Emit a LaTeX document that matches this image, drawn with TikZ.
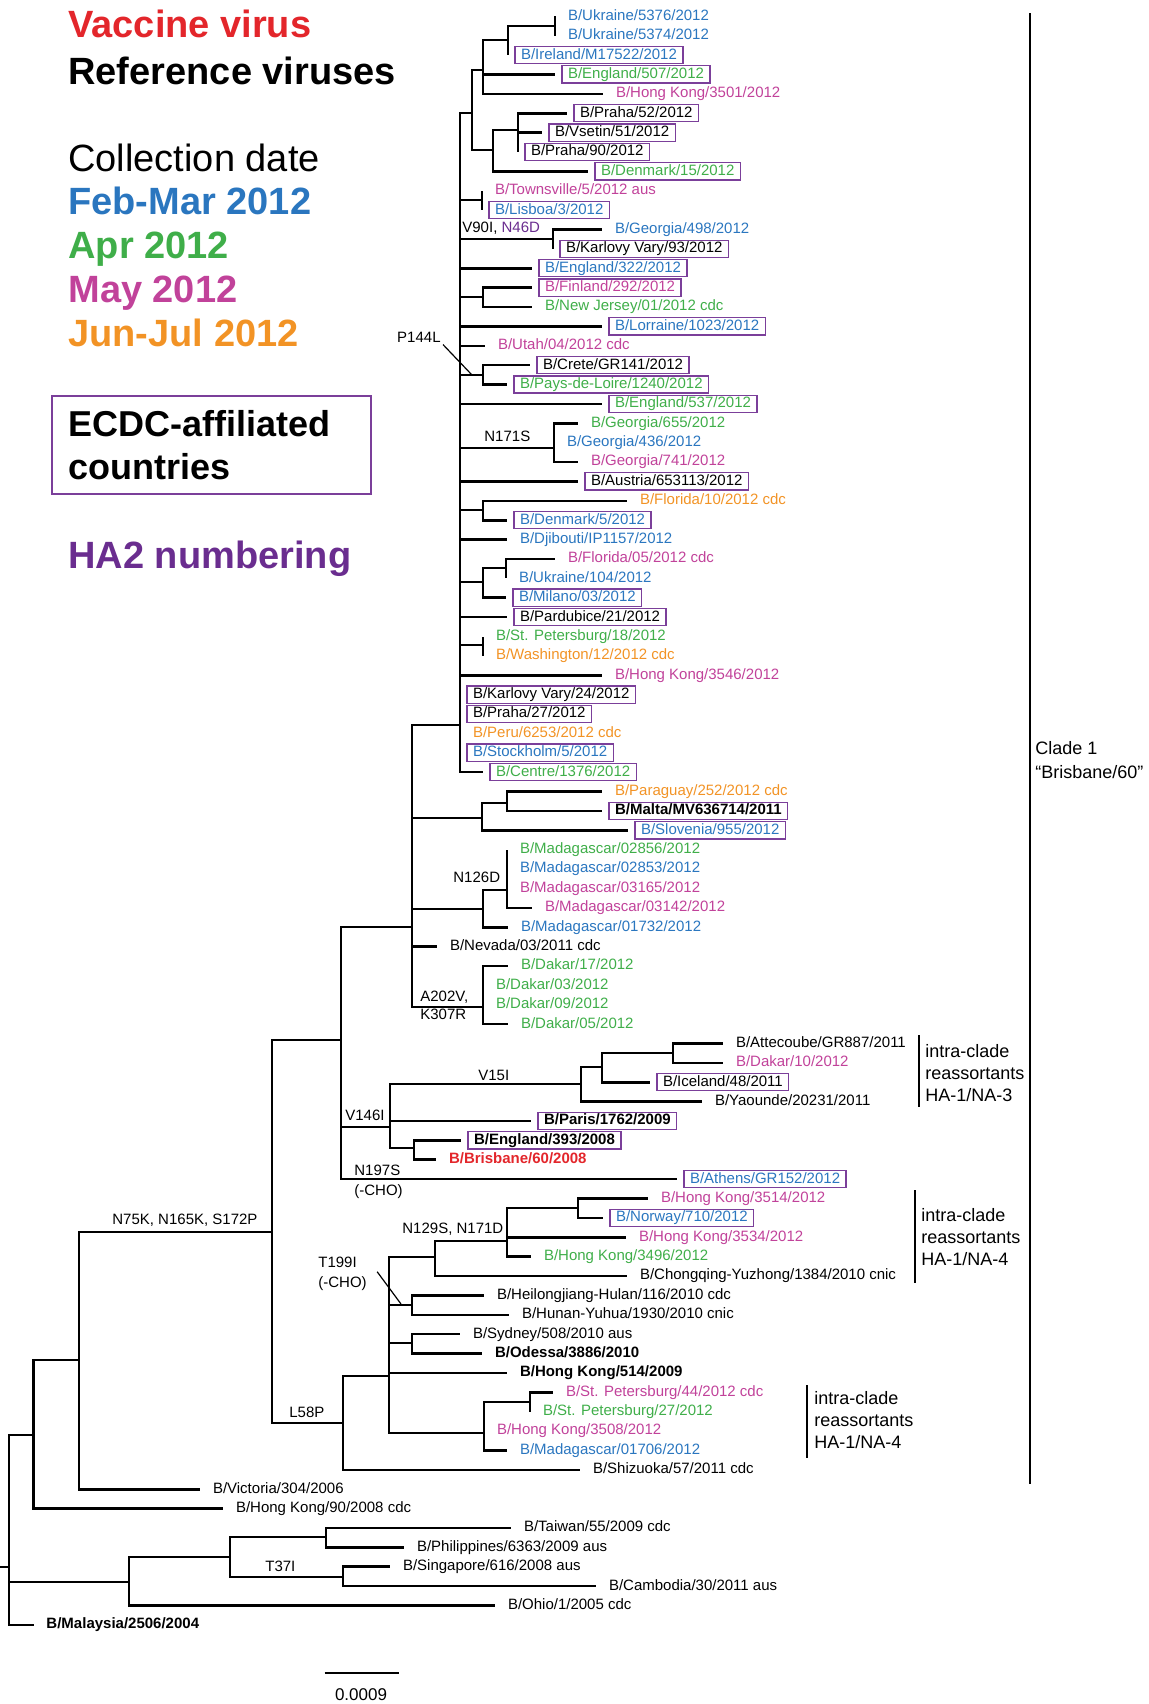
\documentclass[tikz,border=0pt]{standalone}
\usepackage{fontspec}
\setmainfont{Liberation Sans}
\usepackage{tikz}
\usetikzlibrary{positioning}
\usepackage{xcolor}
\definecolor{FluRed}{HTML}{E3262B}
\definecolor{FluBlue}{HTML}{2A76BF}
\definecolor{FluGreen}{HTML}{3FAE49}
\definecolor{FluPink}{HTML}{C1429A}
\definecolor{FluOrange}{HTML}{F29325}
\definecolor{FluPurple}{HTML}{7B3F9A}
\definecolor{FluViolet}{HTML}{6A2D8F}
\newcommand{\leaffont}{\fontsize{7.5}{9}\selectfont}
\newcommand{\legfont}{\fontsize{19}{22}\selectfont}
\newcommand{\notefont}{\fontsize{9}{10.85}\selectfont}

\begin{document}
\begin{tikzpicture}[
  x=0.5pt, y=-0.5pt,
  br/.style={line width=1.3pt},
  ptr/.style={line width=0.6pt},
  bracket/.style={line width=0.7pt},
  leaf/.style={anchor=west,font=\leaffont,inner xsep=3pt,inner ysep=0.75pt,outer xsep=3.5pt,outer ysep=0pt,text height=5.5pt,text depth=1.6pt},
  ecdc/.style={leaf,draw=FluPurple,line width=0.65pt},
  refv/.style={font=\leaffont\bfseries},
  feb/.style={text=FluBlue}, apr/.style={text=FluGreen}, may/.style={text=FluPink}, jun/.style={text=FluOrange},
  mut/.style={font=\leaffont,inner sep=1pt},
  leg/.style={anchor=base west,font=\legfont\bfseries,inner sep=0pt},
  note/.style={anchor=west,align=left,font=\notefont,inner sep=0pt}
]
\useasboundingbox (0,0) rectangle (1149,1704);

% legend
\node[leg,text=FluRed] (vac) at (68,37) {Vaccine virus};
\node[leg] (refs) at (68,84) {Reference viruses};
\node[leg,font=\legfont] (coll) at (68,171) {Collection date};
\node[leg,text=FluBlue] (febleg) at (68,214) {Feb-Mar 2012};
\node[leg,text=FluGreen] (aprleg) at (68,258) {Apr 2012};
\node[leg,text=FluPink] (mayleg) at (68,302) {May 2012};
\node[leg,text=FluOrange] (junleg) at (68,346) {Jun-Jul 2012};
\node[draw=FluPurple,line width=1.3pt,minimum width=159.5pt,minimum height=49pt,text width=143pt,inner xsep=8.25pt,align=left,font=\fontsize{18}{21.5}\selectfont\bfseries] (ecdcleg) at (211.5,445) {ECDC-affiliated\\countries};
\node[leg,text=FluViolet] (ha2) at (68,568) {HA2 numbering};

% internal nodes
\coordinate (nUkr) at (555,26);
\coordinate (nIre) at (508,40);
\coordinate (nEng) at (483,70);
\coordinate (nPra) at (518,130);
\coordinate (nDen) at (493,150);
\coordinate (nTop) at (472,113);
\coordinate (nTow) at (482,200);
\coordinate (nGeoA) at (553,239);
\coordinate (nFin) at (483,297);
\coordinate (nCre) at (483,375);
\coordinate (nGeoB) at (554,448);
\coordinate (nFlo) at (483,510);
\coordinate (nFloB) at (506,568);
\coordinate (nMil) at (483,582);
\coordinate (nStp) at (483,645);
\coordinate (nMain) at (460,725);
\coordinate (nMal) at (507,803);
\coordinate (nPar) at (482,818);
\coordinate (nMadB) at (507,890);
\coordinate (nMad) at (483,909);
\coordinate (nDak) at (483,1007);
\coordinate (nUpper) at (412,927);
\coordinate (nAtt) at (673,1053);
\coordinate (nIce) at (602,1067);
\coordinate (nV15) at (581,1084);
\coordinate (nBri) at (414,1148);
\coordinate (nV146) at (390,1127);
\coordinate (nN197) at (341,1040);
\coordinate (nNor) at (578,1208);
\coordinate (nHk) at (507,1241);
\coordinate (nN129) at (435,1257);
\coordinate (nHei) at (412,1305);
\coordinate (nSyd) at (412,1343);
\coordinate (nStpB) at (530,1402);
\coordinate (nHkB) at (484,1433);
\coordinate (nT199) at (389,1376);
\coordinate (nL58) at (343,1423);
\coordinate (nN75K) at (272,1232);
\coordinate (nVic) at (79,1360);
\coordinate (nHk90) at (33.5,1435);
\coordinate (nPhil) at (326,1537);
\coordinate (nT37) at (343,1577);
\coordinate (nTw) at (230,1557);
\coordinate (nOhio) at (129,1582);
\coordinate (nAll) at (9,1567);
\coordinate (rootstub) at (0,1567);

% leaves
\node[leaf,feb] (l1) at (555,16.3) {B/Ukraine/5376/2012};
\node[leaf,feb] (l2) at (555,35.7) {B/Ukraine/5374/2012};
\node[ecdc,feb] (l3) at (508,55.1) {B/Ireland/M17522/2012};
\node[ecdc,apr] (l4) at (555,74.4) {B/England/507/2012};
\node[leaf,may] (l5) at (603,93.8) {B/Hong Kong/3501/2012};
\node[ecdc] (l6) at (567,113.2) {B/Praha/52/2012};
\node[ecdc] (l7) at (542,132.6) {B/Vsetin/51/2012};
\node[ecdc] (l8) at (518,152.0) {B/Praha/90/2012};
\node[ecdc,apr] (l9) at (588,171.3) {B/Denmark/15/2012};
\node[leaf,may] (l10) at (482,190.7) {B/Townsville/5/2012 aus};
\node[ecdc,feb] (l11) at (482,210.1) {B/Lisboa/3/2012};
\node[leaf,feb] (l12) at (602,229.5) {B/Georgia/498/2012};
\node[ecdc] (l13) at (553,248.9) {B/Karlovy Vary/93/2012};
\node[ecdc,feb] (l14) at (532,268.2) {B/England/322/2012};
\node[ecdc,may] (l15) at (532,287.6) {B/Finland/292/2012};
\node[leaf,apr] (l16) at (532,307.0) {B/New Jersey/01/2012 cdc};
\node[ecdc,feb] (l17) at (602,326.4) {B/Lorraine/1023/2012};
\node[leaf,may] (l18) at (485,345.8) {B/Utah/04/2012 cdc};
\node[ecdc] (l19) at (530,365.1) {B/Crete/GR141/2012};
\node[ecdc,apr] (l20) at (507,384.5) {B/Pays-de-Loire/1240/2012};
\node[ecdc,apr] (l21) at (602,403.9) {B/England/537/2012};
\node[leaf,apr] (l22) at (578,423.3) {B/Georgia/655/2012};
\node[leaf,feb] (l23) at (554,442.7) {B/Georgia/436/2012};
\node[leaf,may] (l24) at (578,462.0) {B/Georgia/741/2012};
\node[ecdc] (l25) at (578,481.4) {B/Austria/653113/2012};
\node[leaf,jun] (l26) at (627,500.8) {B/Florida/10/2012 cdc};
\node[ecdc,feb] (l27) at (507,520.2) {B/Denmark/5/2012};
\node[leaf,feb] (l28) at (507,539.6) {B/Djibouti/IP1157/2012};
\node[leaf,may] (l29) at (555,558.9) {B/Florida/05/2012 cdc};
\node[leaf,feb] (l30) at (506,578.3) {B/Ukraine/104/2012};
\node[ecdc,feb] (l31) at (506,597.7) {B/Milano/03/2012};
\node[ecdc] (l32) at (507,617.1) {B/Pardubice/21/2012};
\node[leaf,apr] (l33) at (483,636.5) {B/St. Petersburg/18/2012};
\node[leaf,jun] (l34) at (483,655.8) {B/Washington/12/2012 cdc};
\node[leaf,may] (l35) at (602,675.2) {B/Hong Kong/3546/2012};
\node[ecdc] (l36) at (460,694.6) {B/Karlovy Vary/24/2012};
\node[ecdc] (l37) at (460,714.0) {B/Praha/27/2012};
\node[leaf,jun] (l38) at (460,733.4) {B/Peru/6253/2012 cdc};
\node[ecdc,feb] (l39) at (460,752.7) {B/Stockholm/5/2012};
\node[ecdc,apr] (l40) at (483,772.1) {B/Centre/1376/2012};
\node[leaf,jun] (l41) at (602,791.5) {B/Paraguay/252/2012 cdc};
\node[ecdc,refv] (l42) at (602,810.9) {B/Malta/MV636714/2011};
\node[ecdc,feb] (l43) at (628,830.3) {B/Slovenia/955/2012};
\node[leaf,apr] (l44) at (507,849.6) {B/Madagascar/02856/2012};
\node[leaf,feb] (l45) at (507,869.0) {B/Madagascar/02853/2012};
\node[leaf,may] (l46) at (507,888.4) {B/Madagascar/03165/2012};
\node[leaf,may] (l47) at (532,907.8) {B/Madagascar/03142/2012};
\node[leaf,feb] (l48) at (508,927.2) {B/Madagascar/01732/2012};
\node[leaf] (l49) at (437,946.5) {B/Nevada/03/2011 cdc};
\node[leaf,apr] (l50) at (508,965.9) {B/Dakar/17/2012};
\node[leaf,apr] (l51) at (483,985.3) {B/Dakar/03/2012};
\node[leaf,apr] (l52) at (483,1004.7) {B/Dakar/09/2012};
\node[leaf,apr] (l53) at (508,1024.1) {B/Dakar/05/2012};
\node[leaf] (l54) at (723,1043.4) {B/Attecoube/GR887/2011};
\node[leaf,may] (l55) at (723,1062.8) {B/Dakar/10/2012};
\node[ecdc] (l56) at (650,1082.2) {B/Iceland/48/2011};
\node[leaf] (l57) at (702,1101.6) {B/Yaounde/20231/2011};
\node[ecdc,refv] (l58) at (531,1121.0) {B/Paris/1762/2009};
\node[ecdc,refv] (l59) at (461,1140.3) {B/England/393/2008};
\node[leaf,refv,text=FluRed] (l60) at (436,1159.7) {B/Brisbane/60/2008};
\node[ecdc,feb] (l61) at (677,1179.1) {B/Athens/GR152/2012};
\node[leaf,may] (l62) at (648,1198.5) {B/Hong Kong/3514/2012};
\node[ecdc,feb] (l63) at (603,1217.9) {B/Norway/710/2012};
\node[leaf,may] (l64) at (626,1237.2) {B/Hong Kong/3534/2012};
\node[leaf,apr] (l65) at (531,1256.6) {B/Hong Kong/3496/2012};
\node[leaf] (l66) at (627,1276.0) {B/Chongqing-Yuzhong/1384/2010 cnic};
\node[leaf] (l67) at (484,1295.4) {B/Heilongjiang-Hulan/116/2010 cdc};
\node[leaf] (l68) at (509,1314.8) {B/Hunan-Yuhua/1930/2010 cnic};
\node[leaf] (l69) at (460,1334.1) {B/Sydney/508/2010 aus};
\node[leaf,refv] (l70) at (482,1353.5) {B/Odessa/3886/2010};
\node[leaf,refv] (l71) at (507,1372.9) {B/Hong Kong/514/2009};
\node[leaf,may] (l72) at (553,1392.3) {B/St. Petersburg/44/2012 cdc};
\node[leaf,apr] (l73) at (530,1411.7) {B/St. Petersburg/27/2012};
\node[leaf,may] (l74) at (484,1431.0) {B/Hong Kong/3508/2012};
\node[leaf,feb] (l75) at (507,1450.4) {B/Madagascar/01706/2012};
\node[leaf] (l76) at (580,1469.8) {B/Shizuoka/57/2011 cdc};
\node[leaf] (l77) at (200,1489.2) {B/Victoria/304/2006};
\node[leaf] (l78) at (223,1508.6) {B/Hong Kong/90/2008 cdc};
\node[leaf] (l79) at (511,1527.9) {B/Taiwan/55/2009 cdc};
\node[leaf] (l80) at (404,1547.3) {B/Philippines/6363/2009 aus};
\node[leaf] (l81) at (390,1566.7) {B/Singapore/616/2008 aus};
\node[leaf] (l82) at (596,1586.1) {B/Cambodia/30/2011 aus};
\node[leaf] (l83) at (495,1605.5) {B/Ohio/1/2005 cdc};
\node[leaf,refv] (l84) at (33.5,1624.8) {B/Malaysia/2506/2004};

% branches
\draw[br] (nUkr) |- (l1.west) (nUkr) |- (l2.west);
\draw[br] (nIre) |- (nUkr) (nIre) |- (l3.west);
\draw[br] (nEng) |- (nIre) (nEng) |- (l4.west) (nEng) |- (l5.west);
\draw[br] (nPra) |- (l6.west) (nPra) |- (l7.west) (nPra) |- (l8.west);
\draw[br] (nDen) |- (nPra) (nDen) |- (l9.west);
\draw[br] (nTop) |- (nEng) (nTop) |- (nDen);
\draw[br] (nTow) |- (l10.west) (nTow) |- (l11.west);
\draw[br] (nGeoA) |- (l12.west) (nGeoA) |- (l13.west);
\draw[br] (nFin) |- (l15.west) (nFin) |- (l16.west);
\draw[br] (nCre) |- (l19.west) (nCre) |- (l20.west);
\draw[br] (nGeoB) |- (l22.west) (nGeoB) |- (l23.west) (nGeoB) |- (l24.west);
\draw[br] (nFlo) |- (l26.west) (nFlo) |- (l27.west);
\draw[br] (nFloB) |- (l29.west) (nFloB) |- (l30.west);
\draw[br] (nMil) |- (nFloB) (nMil) |- (l31.west);
\draw[br] (nStp) |- (l33.west) (nStp) |- (l34.west);
\draw[br] (nMain) |- (nTop) (nMain) |- (nTow) (nMain) |- (nGeoA) (nMain) |- (l14.west)
  (nMain) |- (nFin) (nMain) |- (l17.west) (nMain) |- (l18.west) (nMain) |- (nCre)
  (nMain) |- (l21.west) (nMain) |- (nGeoB) (nMain) |- (l25.west) (nMain) |- (nFlo)
  (nMain) |- (l28.west) (nMain) |- (nMil) (nMain) |- (l32.west) (nMain) |- (nStp)
  (nMain) |- (l35.west) (nMain) |- (l36.west) (nMain) |- (l37.west) (nMain) |- (l38.west)
  (nMain) |- (l39.west) (nMain) |- (l40.west);
\draw[br] (nMal) |- (l41.west) (nMal) |- (l42.west);
\draw[br] (nPar) |- (nMal) (nPar) |- (l43.west);
\draw[br] (nMadB) |- (l44.west) (nMadB) |- (l45.west) (nMadB) |- (l46.west) (nMadB) |- (l47.west);
\draw[br] (nMad) |- (nMadB) (nMad) |- (l48.west);
\draw[br] (nDak) |- (l50.west) (nDak) |- (l51.west) (nDak) |- (l52.west) (nDak) |- (l53.west);
\draw[br] (nUpper) |- (nMain) (nUpper) |- (nPar) (nUpper) |- (nMad) (nUpper) |- (l49.west) (nUpper) |- (nDak);
\draw[br] (nAtt) |- (l54.west) (nAtt) |- (l55.west);
\draw[br] (nIce) |- (nAtt) (nIce) |- (l56.west);
\draw[br] (nV15) |- (nIce) (nV15) |- (l57.west);
\draw[br] (nBri) |- (l59.west) (nBri) |- (l60.west);
\draw[br] (nV146) |- (nV15) (nV146) |- (l58.west) (nV146) |- (nBri);
\draw[br] (nN197) |- (nUpper) (nN197) |- (nV146) (nN197) |- (l61.west);
\draw[br] (nNor) |- (l62.west) (nNor) |- (l63.west);
\draw[br] (nHk) |- (nNor) (nHk) |- (l64.west) (nHk) |- (l65.west);
\draw[br] (nN129) |- (nHk) (nN129) |- (l66.west);
\draw[br] (nHei) |- (l67.west) (nHei) |- (l68.west);
\draw[br] (nSyd) |- (l69.west) (nSyd) |- (l70.west);
\draw[br] (nStpB) |- (l72.west) (nStpB) |- (l73.west);
\draw[br] (nHkB) |- (nStpB) (nHkB) |- (l74.west) (nHkB) |- (l75.west);
\draw[br] (nT199) |- (nN129) (nT199) |- (nHei) (nT199) |- (nSyd) (nT199) |- (l71.west) (nT199) |- (nHkB);
\draw[br] (nL58) |- (nT199) (nL58) |- (l76.west);
\draw[br] (nN75K) |- (nN197) (nN75K) |- (nL58);
\draw[br] (nVic) |- (nN75K) (nVic) |- (l77.west);
\draw[br] (nHk90) |- (nVic) (nHk90) |- (l78.west);
\draw[br] (nPhil) |- (l79.west) (nPhil) |- (l80.west);
\draw[br] (nT37) |- (l81.west) (nT37) |- (l82.west);
\draw[br] (nTw) |- (nPhil) (nTw) |- (nT37);
\draw[br] (nOhio) |- (nTw) (nOhio) |- (l83.west);
\draw[br] (nAll) |- (nHk90) (nAll) |- (nOhio) (nAll) |- (l84.west);
\draw[br] (rootstub) -- (nAll);

% mutations
\node[mut,anchor=west] (v90i) at (460,228) {V90I, \textcolor{FluViolet}{N46D}};
\node[mut,anchor=east] (p144) at (443,337) {P144L};
\coordinate (p144end) at (472,375);
\draw[ptr] (p144.south east) -- (p144end);
\node[mut,anchor=west] (n171s) at (482,436) {N171S};
\node[mut,anchor=west] (n126d) at (451,877) {N126D};
\node[mut,anchor=west,align=left] (a202v) at (418,1005) {A202V,\\K307R};
\node[mut,anchor=west] (v15i) at (476,1075) {V15I};
\node[mut,anchor=west] (v146i) at (343,1115) {V146I};
\node[mut,anchor=west] (n197s) at (352,1170) {N197S};
\node[mut,below=2.5pt of n197s.south west,anchor=north west] (cho1) {(-CHO)};
\node[mut,anchor=west] (n129s) at (400,1229) {N129S, N171D};
\node[mut,anchor=west] (t199i) at (316,1262) {T199I};
\node[mut,below=2.5pt of t199i.south west,anchor=north west] (cho2) {(-CHO)};
\coordinate (t199end) at (401,1304);
\draw[ptr] ([xshift=9pt,yshift=-1pt]t199i.south east) -- (t199end);
\node[mut,anchor=west] (n75k) at (110,1220) {N75K, N165K, S172P};
\node[mut,anchor=west] (l58p) at (287,1412) {L58P};
\node[mut,anchor=west] (t37i) at (263,1566) {T37I};

% brackets
\coordinate (cl1) at (1030,13);
\coordinate (cl2) at (1030,1484);
\draw[bracket] (cl1) -- (cl2);
\node[note,font=\fontsize{9}{12}\selectfont] (clade) at (1035,760) {Clade 1\\“Brisbane/60”};
\coordinate (ra1) at (919,1035);
\coordinate (ra2) at (919,1107);
\draw[bracket] (ra1) -- (ra2);
\node[note] (na3) at (925,1073) {intra-clade\\reassortants\\HA-1/NA-3};
\coordinate (rb1) at (915,1190);
\coordinate (rb2) at (915,1283);
\draw[bracket] (rb1) -- (rb2);
\node[note] (na4a) at (921,1237) {intra-clade\\reassortants\\HA-1/NA-4};
\coordinate (rc1) at (807,1385);
\coordinate (rc2) at (807,1458);
\draw[bracket] (rc1) -- (rc2);
\node[note] (na4b) at (814,1420) {intra-clade\\reassortants\\HA-1/NA-4};

% scale bar
\coordinate (sb1) at (324.5,1673);
\coordinate (sb2) at (398.6,1673);
\draw[br] (sb1) -- (sb2);
\node[font=\fontsize{8.5}{10}\selectfont,inner sep=0pt] (sblab) at (361,1695) {0.0009};
\end{tikzpicture}
\end{document}
